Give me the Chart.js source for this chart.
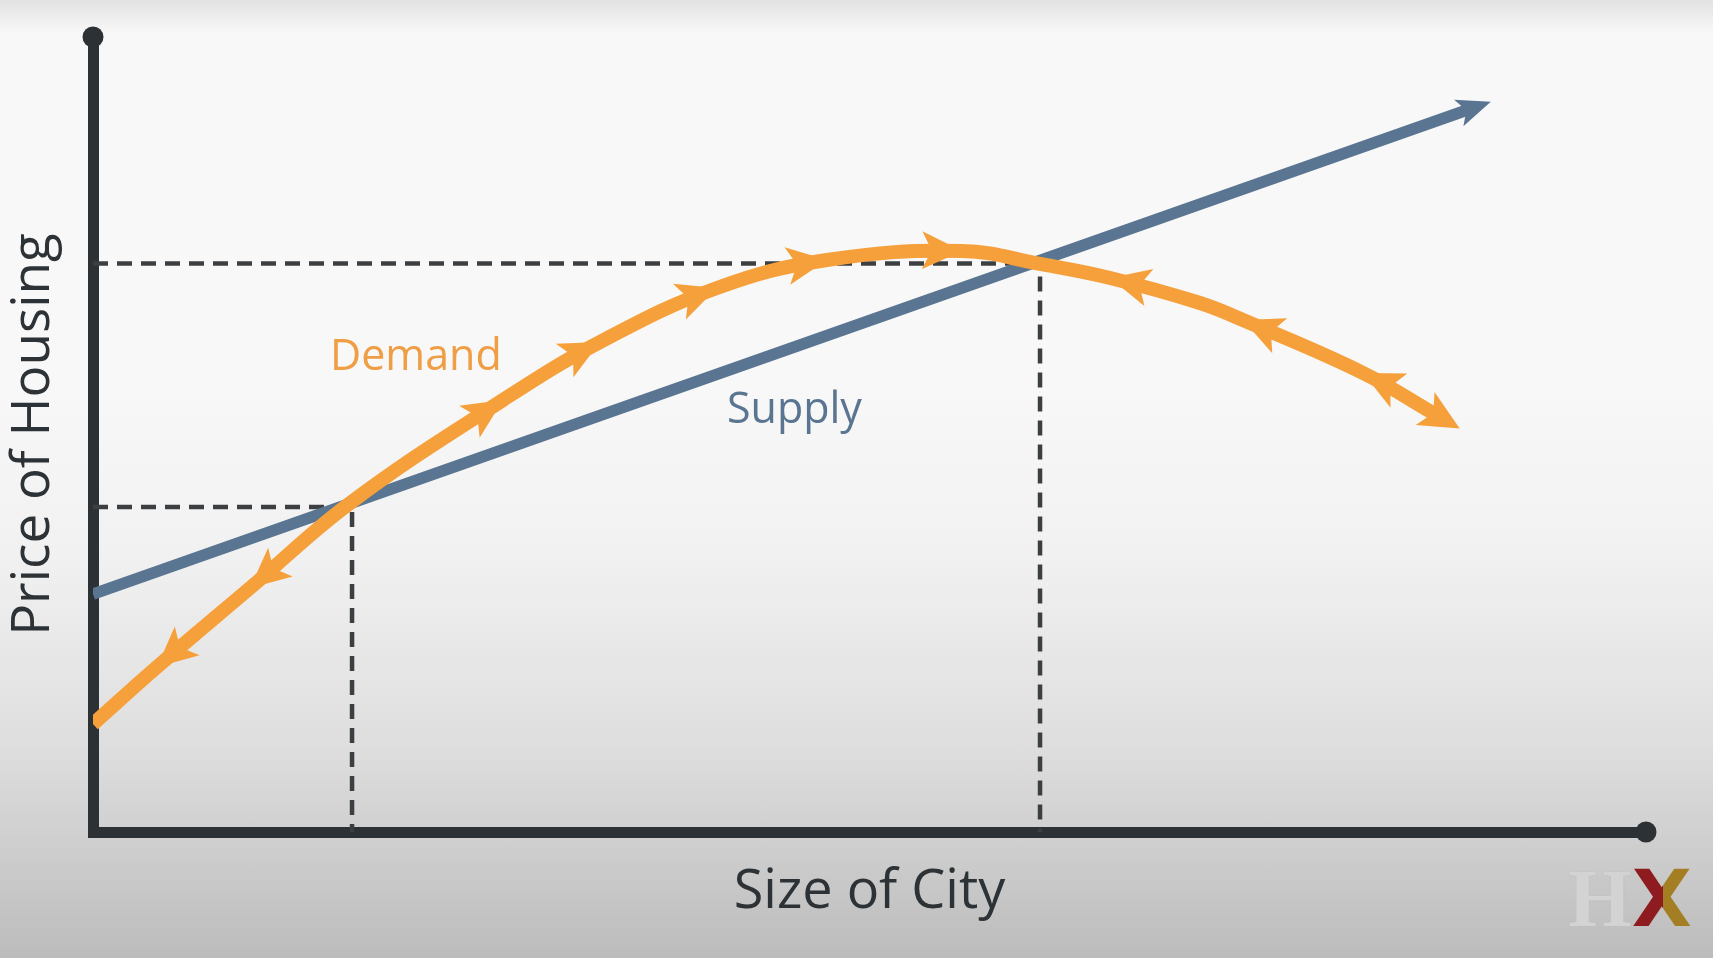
<!DOCTYPE html>
<html lang="en">
<head>
<meta charset="UTF-8">
<title>Price of Housing vs Size of City</title>
<script src="https://cdn.jsdelivr.net/npm/chart.js"></script>
<style>
  html, body { margin: 0; padding: 0; }
  body {
    width: 1713px; height: 958px; overflow: hidden;
    background: linear-gradient(to bottom, #e2e2e2 0%, #f8f8f8 3.5%, #f8f8f8 40%, #f1f1f1 58%, #dedede 78%, #bcbcbc 100%);
  }
  .wrap { position: relative; width: 1713px; height: 958px; }
  .logo { position: absolute; left: 1568px; top: 858px; line-height: 1; white-space: nowrap; }
  .logo .h { font-family: "Liberation Serif"; font-weight: bold; font-size: 82px; color: #d3d3d3; text-shadow: 0 0 1px #b0b0b0; }
  .logo .x {
    font-family: "DejaVu Sans"; font-weight: bold; font-size: 78px;
    background: linear-gradient(to right, #8e1b20 0%, #8e1b20 52%, #a37e22 52%, #a37e22 100%);
    -webkit-background-clip: text; background-clip: text; color: transparent;
  }
</style>
</head>
<body>
<div class="wrap">
  <canvas id="housingChart"></canvas>
  <div class="logo"><span class="h">H</span><span class="x">X</span></div>
</div>

<script>
// demand curve (size of city, price of housing), arrow tips are points on it
const demandX = [0, 4.12, 10.11, 16.55, 26.40, 32.65, 40.18, 47.26, 55.96, 60.98, 65.49, 71.28, 74.05, 81.78, 86.61];
const demandY = [13.58, 20.75, 30.69, 41.38, 54.34, 61.64, 68.43, 71.95, 73.08, 71.45, 69.69, 66.54, 64.40, 57.74, 52.33];
const demandArrowIdx = [1, 2, 4, 5, 6, 7, 8, 10, 12, 13];
const demandArrowDir = [-1, -1, 1, 1, 1, 1, 1, -1, -1, -1];

const supplyX = [0, 88.67];
const supplyY = [29.94, 90.94];

// the two equilibria marked with dashed guides
const equilibriumX = [16.68, 60.98];
const equilibriumY = [40.88, 71.5];

const orange = '#f6a03b';
const slate = '#5a7591';
const ink = '#2b3135';

const toPoints = (xs, ys) => xs.map((x, i) => ({x: x, y: ys[i]}));

const datasets = [
  {
    label: 'Demand',
    data: toPoints(demandX, demandY),
    borderColor: orange,
    borderWidth: 14,
    tension: 0.4,
    pointRadius: 0,
    order: 0
  },
  {
    label: 'Supply',
    data: toPoints(supplyX, supplyY),
    borderColor: slate,
    borderWidth: 11.5,
    pointRadius: 0,
    order: 1
  }
];
equilibriumX.forEach((ex, i) => {
  const ey = equilibriumY[i];
  datasets.push({
    label: 'Equilibrium ' + (i + 1),
    data: [{x: 0, y: ey}, {x: ex, y: ey}, {x: ex, y: 0}],
    borderColor: '#3c3f42',
    borderWidth: 4.5,
    borderDash: [15, 9],
    pointRadius: 0,
    order: 2
  });
});

const marks = demandArrowIdx.map((idx, i) => ({dataset: 0, index: idx, dir: demandArrowDir[i], length: 40, width: 19, color: orange, lead: 0}));
marks.push({dataset: 0, index: demandX.length - 1, dir: 1, length: 40, width: 19, color: orange, lead: 25});
marks.push({dataset: 1, index: supplyX.length - 1, dir: 1, length: 34, width: 14, color: slate, lead: 22});

const arrowHeads = {
  id: 'arrowHeads',
  afterDatasetsDraw(chart, args, opts) {
    const ctx = chart.ctx;
    opts.marks.forEach(m => {
      const pts = chart.getDatasetMeta(m.dataset).data;
      const p = pts[m.index];
      const a = pts[Math.max(m.index - 1, 0)];
      const b = pts[Math.min(m.index + 1, pts.length - 1)];
      let dx = b.x - a.x, dy = b.y - a.y;
      const len = Math.hypot(dx, dy);
      dx = dx / len * m.dir; dy = dy / len * m.dir;
      ctx.save();
      ctx.translate(p.x + dx * m.lead, p.y + dy * m.lead);
      ctx.rotate(Math.atan2(dy, dx));
      ctx.beginPath();
      ctx.moveTo(0, 0);
      ctx.lineTo(-m.length, -m.width);
      ctx.lineTo(-m.length * 0.76, 0);
      ctx.lineTo(-m.length, m.width);
      ctx.closePath();
      ctx.fillStyle = m.color;
      ctx.fill();
      ctx.restore();
    });
  }
};

const axisDots = {
  id: 'axisDots',
  afterDraw(chart, args, opts) {
    const {ctx, chartArea} = chart;
    ctx.save();
    ctx.fillStyle = opts.color;
    [[chartArea.left, chartArea.top], [chartArea.right, chartArea.bottom]].forEach(([x, y]) => {
      ctx.beginPath();
      ctx.arc(x, y, opts.radius, 0, Math.PI * 2);
      ctx.fill();
    });
    ctx.restore();
  }
};

const curveLabels = {
  id: 'curveLabels',
  afterDatasetsDraw(chart, args, opts) {
    const {ctx, scales} = chart;
    ctx.save();
    ctx.textBaseline = 'alphabetic';
    ctx.textAlign = 'left';
    opts.items.forEach(t => {
      ctx.font = t.size + 'px "Open Sans"';
      ctx.fillStyle = t.color;
      ctx.fillText(t.text, scales.x.getPixelForValue(t.x), scales.y.getPixelForValue(t.y));
    });
    ctx.restore();
  }
};

const ctx = document.getElementById('housingChart').getContext('2d');
new Chart(ctx, {
  type: 'line',
  data: { datasets: datasets },
  options: {
    responsive: true,
    maintainAspectRatio: false,
    animation: false,
    layout: { padding: { left: 0, right: 67, top: 37, bottom: 0 }, autoPadding: false },
    plugins: {
      legend: { display: false },
      tooltip: { enabled: false },
      arrowHeads: { marks: marks },
      axisDots: { color: ink, radius: 10.5 },
      curveLabels: {
        items: [
          { text: 'Demand', x: 15.26, y: 58.11, size: 43, color: '#ef9e45' },
          { text: 'Supply', x: 40.82, y: 51.45, size: 43, color: slate }
        ]
      }
    },
    scales: {
      x: {
        type: 'linear', min: 0, max: 100,
        grid: { display: false, drawTicks: false, tickLength: 0 },
        ticks: { display: false },
        border: { display: true, width: 11, color: ink },
        title: {
          display: true, text: 'Size of City', color: '#2d3236',
          font: { family: 'Open Sans', size: 54, lineHeight: 1.2 },
          padding: { top: 28.6, bottom: 32.6 }
        }
      },
      y: {
        type: 'linear', min: 0, max: 100,
        grid: { display: false, drawTicks: false, tickLength: 0 },
        ticks: { display: false },
        border: { display: true, width: 11, color: ink },
        title: {
          display: true, text: 'Price of Housing', color: '#2d3236',
          font: { family: 'Open Sans', size: 53, lineHeight: 1.2 },
          padding: { top: 2.5, bottom: 26.9 }
        }
      }
    }
  },
  plugins: [arrowHeads, axisDots, curveLabels]
});
</script>
</body>
</html>
